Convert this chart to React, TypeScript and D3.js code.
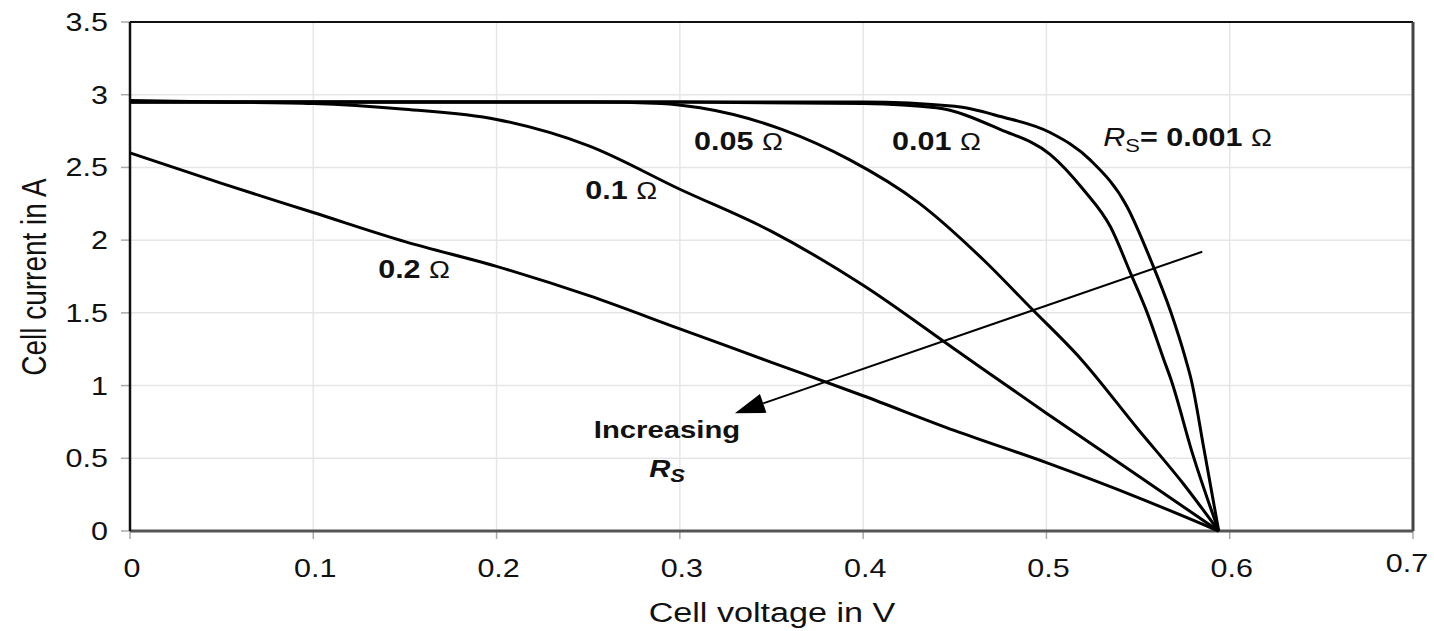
import React from "react";
import * as d3 from "d3";

// axis ticks
const xTicks = [0, 0.1, 0.2, 0.3, 0.4, 0.5, 0.6, 0.7];
const yTicks = [0, 0.5, 1, 1.5, 2, 2.5, 3, 3.5];

// I-V curves (voltage in V, current in A)
const rs0001V = [0, 0.1, 0.2, 0.3, 0.4, 0.45, 0.475, 0.502, 0.524, 0.544, 0.557, 0.568, 0.576, 0.579, 0.586, 0.594];
const rs0001I = [2.95, 2.95, 2.95, 2.95, 2.95, 2.92, 2.85, 2.74, 2.55, 2.23, 1.86, 1.5, 1.18, 1.04, 0.56, 0];

const rs001V = [0, 0.1, 0.2, 0.3, 0.4, 0.44, 0.475, 0.502, 0.52, 0.535, 0.546, 0.555, 0.564, 0.568, 0.58, 0.594];
const rs001I = [2.95, 2.95, 2.95, 2.95, 2.94, 2.91, 2.76, 2.59, 2.35, 2.09, 1.77, 1.5, 1.18, 1.04, 0.52, 0];

const rs005V = [0, 0.1, 0.2, 0.25, 0.29, 0.311, 0.356, 0.393, 0.43, 0.466, 0.491, 0.519, 0.55, 0.575, 0.594];
const rs005I = [2.95, 2.95, 2.95, 2.95, 2.94, 2.91, 2.76, 2.55, 2.26, 1.86, 1.54, 1.18, 0.7, 0.32, 0];

const rs01V = [0, 0.05, 0.1, 0.15, 0.2, 0.25, 0.3, 0.35, 0.4, 0.45, 0.5, 0.55, 0.594];
const rs01I = [2.96, 2.95, 2.94, 2.9, 2.83, 2.65, 2.35, 2.06, 1.69, 1.25, 0.81, 0.38, 0];

const rs02V = [0, 0.05, 0.1, 0.15, 0.2, 0.25, 0.3, 0.35, 0.4, 0.45, 0.5, 0.55, 0.594];
const rs02I = [2.6, 2.39, 2.19, 1.99, 1.82, 1.62, 1.39, 1.16, 0.93, 0.69, 0.47, 0.23, 0];

const curves = [
  { v: rs0001V, i: rs0001I },
  { v: rs001V, i: rs001I },
  { v: rs005V, i: rs005I },
  { v: rs01V, i: rs01I },
  { v: rs02V, i: rs02I },
];

// curve labels: [voltage, current, text]
const labels: [number, number, string][] = [
  [0.332, 2.62, "0.05"],
  [0.44, 2.62, "0.01"],
  [0.268, 2.28, "0.1"],
  [0.155, 1.74, "0.2"],
];

// arrow from / to (data units)
const arrowFrom = [0.585, 1.92];
const arrowTo = [0.33, 0.81];

const W = 1434;
const H = 631;
const font = "'Liberation Sans', Arial, sans-serif";
const SX = 1.22; // the source picture is stretched sideways

function SText({ x, y, size = 25, anchor = "middle", weight = "normal", style = "normal", children }: any) {
  return (
    <text
      transform={`translate(${x},${y}) scale(${SX},1)`}
      textAnchor={anchor}
      fontSize={size}
      fontWeight={weight}
      fontStyle={style}
      fontFamily={font}
      fill="#111"
    >
      {children}
    </text>
  );
}

export default function App() {
  const x = d3.scaleLinear().domain([0, 0.7]).range([130, 1413]);
  const y = d3.scaleLinear().domain([0, 3.5]).range([531, 22]);

  const line = d3
    .line<[number, number]>()
    .x((d) => x(d[0]))
    .y((d) => y(d[1]))
    .curve(d3.curveMonotoneX);

  const ax0 = x(arrowFrom[0]);
  const ay0 = y(arrowFrom[1]);
  const ax1 = x(arrowTo[0]);
  const ay1 = y(arrowTo[1]);
  const ang = Math.atan2(ay1 - ay0, ax1 - ax0);
  const headLen = 30;
  const headW = 10;
  const bx = ax1 - headLen * Math.cos(ang);
  const by = ay1 - headLen * Math.sin(ang);
  const head = [
    [ax1, ay1],
    [bx + headW * Math.sin(ang), by - headW * Math.cos(ang)],
    [bx - headW * Math.sin(ang), by + headW * Math.cos(ang)],
  ];

  return (
    <svg width={W} height={H} style={{ position: "absolute", left: 0, top: 0, background: "#fff" }}>
      {/* grid */}
      <g stroke="#e6e6e6" strokeWidth={1.5}>
        {xTicks.slice(1, -1).map((t) => (
          <line key={`gx${t}`} x1={x(t)} x2={x(t)} y1={y(3.5)} y2={y(0)} />
        ))}
        {yTicks.slice(1, -1).map((t) => (
          <line key={`gy${t}`} x1={x(0)} x2={x(0.7)} y1={y(t)} y2={y(t)} />
        ))}
      </g>

      {/* tick marks */}
      <g stroke="#aaa" strokeWidth={1.5}>
        {yTicks.map((t) => (
          <line key={`ty${t}`} x1={x(0) - 9} x2={x(0)} y1={y(t)} y2={y(t)} />
        ))}
        {xTicks.map((t) => (
          <line key={`tx${t}`} x1={x(t)} x2={x(t)} y1={y(0)} y2={y(0) + 8} />
        ))}
      </g>

      {/* frame */}
      <line x1={x(0)} x2={x(0.7)} y1={y(3.5)} y2={y(3.5)} stroke="#111" strokeWidth={2} />
      <line x1={x(0.7)} x2={x(0.7)} y1={y(3.5)} y2={y(0)} stroke="#444" strokeWidth={3} />
      <line x1={x(0)} x2={x(0.7)} y1={y(0)} y2={y(0)} stroke="#555" strokeWidth={3} />
      <line x1={x(0)} x2={x(0)} y1={y(3.5)} y2={y(0)} stroke="#111" strokeWidth={2.5} />

      {/* tick labels */}
      {yTicks.map((t) => (
        <SText key={`ly${t}`} x={108} y={y(t) + 9} anchor="end">
          {String(t)}
        </SText>
      ))}
      {xTicks.map((t) => (
        <SText key={`lx${t}`} x={t === 0.7 ? x(t) - 6 : x(t) + 2} y={t === 0.7 ? 572 : 577}>
          {String(t)}
        </SText>
      ))}

      {/* axis titles */}
      <SText x={772} y={622} size={28}>
        Cell voltage in V
      </SText>
      <text
        transform={`translate(46,277) rotate(-90) scale(1,${SX})`}
        textAnchor="middle"
        fontSize={28}
        fontFamily={font}
        fill="#111"
      >
        Cell current in A
      </text>

      {/* curves */}
      <g fill="none" stroke="#000" strokeWidth={3} strokeLinejoin="round">
        {curves.map((c, k) => (
          <path key={k} d={line(c.v.map((v, j) => [v, c.i[j]] as [number, number])) || undefined} />
        ))}
      </g>

      {/* curve labels */}
      {labels.map(([v, i, t]) => (
        <SText key={t} x={x(v)} y={y(i)} weight="bold">
          {t} <tspan fontWeight="normal" fontSize={23}>Ω</tspan>
        </SText>
      ))}
      <SText x={x(0.531)} y={y(2.65)} anchor="start">
        <tspan fontStyle="italic">R</tspan>
        <tspan fontSize={18} dy={6}>S</tspan>
        <tspan dy={-6} fontWeight="bold">= 0.001 </tspan>
        <tspan fontSize={23}>Ω</tspan>
      </SText>

      {/* arrow */}
      <line x1={ax0} y1={ay0} x2={bx} y2={by} stroke="#000" strokeWidth={2} />
      <polygon points={head.map((p) => p.join(",")).join(" ")} fill="#000" />
      <SText x={x(0.293)} y={y(0.64)} weight="bold" size={24}>
        Increasing
      </SText>
      <SText x={x(0.293)} y={y(0.37)} weight="bold" size={24}>
        <tspan fontStyle="italic">R</tspan>
        <tspan fontStyle="italic" fontSize={18} dy={5}>S</tspan>
      </SText>
    </svg>
  );
}
